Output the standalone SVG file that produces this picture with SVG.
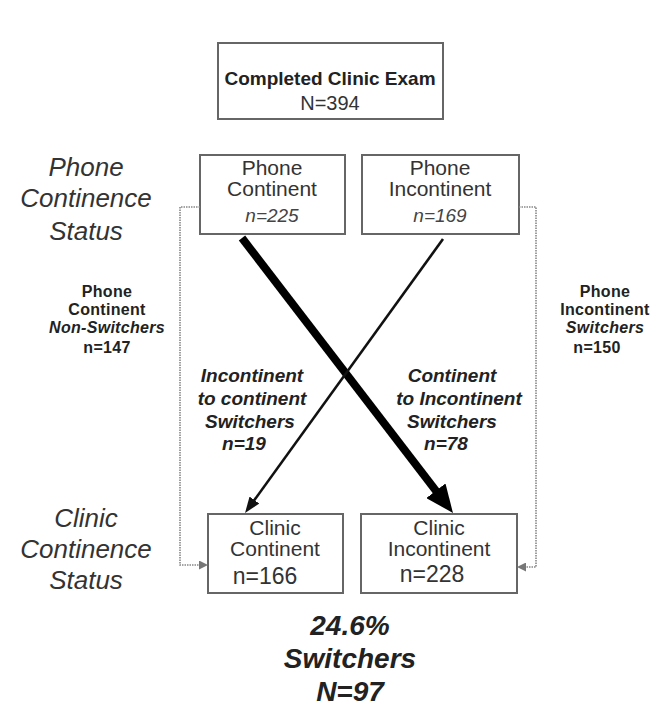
<svg xmlns="http://www.w3.org/2000/svg" width="668" height="708" viewBox="0 0 668 708">
<defs>
<style>
text{font-family:"Liberation Sans",Arial,sans-serif;fill:#222;text-anchor:middle}
.box{fill:#fff;stroke:#666;stroke-width:2}
.side{font-size:26px;font-style:italic;fill:#333}
.sm{font-size:16px;font-weight:bold;letter-spacing:0.3px}
.mid{font-size:19px;font-weight:bold;font-style:italic}
.node{font-size:21px;fill:#333}
.dot{fill:none;stroke:#888;stroke-width:1.6;stroke-dasharray:1.5 1}
</style>
<marker id="ahBig" markerUnits="userSpaceOnUse" markerWidth="28" markerHeight="24" refX="8" refY="12" orient="auto">
<path d="M0,0 L28,12 L0,24 z" fill="#000"/>
</marker>
<marker id="ahThin" markerUnits="userSpaceOnUse" markerWidth="16" markerHeight="12" refX="6" refY="6" orient="auto">
<path d="M0,0 L16,6 L0,12 z" fill="#111"/>
</marker>
<marker id="ahDot" markerUnits="userSpaceOnUse" markerWidth="9" markerHeight="9" refX="1" refY="4.5" orient="auto">
<path d="M0,0 L9,4.5 L0,9 z" fill="#777"/>
</marker>
</defs>

<g id="top">
<rect class="box" x="218" y="43" width="225" height="76"/>
<text x="330" y="85" style="font-size:19px;font-weight:bold">Completed Clinic Exam</text>
<text x="330" y="110" style="font-size:20px;fill:#333">N=394</text>
</g>

<g id="phoneLabel">
<text class="side" x="86" y="176">Phone</text>
<text class="side" x="86" y="207">Continence</text>
<text class="side" x="86" y="240">Status</text>
</g>

<g id="clinicLabel">
<text class="side" x="86" y="527">Clinic</text>
<text class="side" x="86" y="558">Continence</text>
<text class="side" x="86" y="589">Status</text>
</g>

<g id="phoneContinent">
<rect class="box" x="200" y="155" width="145" height="79"/>
<text class="node" x="272" y="175">Phone</text>
<text class="node" x="272" y="196">Continent</text>
<text x="272" y="222" style="font-size:19px;font-style:italic;fill:#444">n=225</text>
</g>

<g id="phoneIncontinent">
<rect class="box" x="362" y="155" width="157" height="79"/>
<text class="node" x="440" y="175">Phone</text>
<text class="node" x="440" y="196">Incontinent</text>
<text x="440" y="222" style="font-size:19px;font-style:italic;fill:#444">n=169</text>
</g>

<g id="clinicContinent">
<rect class="box" x="208" y="514" width="135" height="79"/>
<text class="node" x="275" y="535">Clinic</text>
<text class="node" x="275" y="556">Continent</text>
<text x="265" y="584" style="font-size:23px;fill:#333">n=166</text>
</g>

<g id="clinicIncontinent">
<rect class="box" x="361" y="514" width="156" height="79"/>
<text class="node" x="439" y="535">Clinic</text>
<text class="node" x="439" y="556">Incontinent</text>
<text x="432" y="582" style="font-size:23px;fill:#333">n=228</text>
</g>

<g id="connectors">
<line x1="242" y1="238" x2="440.8" y2="497.1" stroke="#000" stroke-width="8" marker-end="url(#ahBig)"/>
<line x1="443" y1="239" x2="250.9" y2="504.9" stroke="#111" stroke-width="2.6" marker-end="url(#ahThin)"/>
<path class="dot" d="M200,207 H180 V565 H200" marker-end="url(#ahDot)"/>
<path class="dot" d="M519,207 H536 V567 H525" marker-end="url(#ahDot)"/>
</g>

<g id="leftSwitchLabel">
<text class="sm" x="107" y="297">Phone</text>
<text class="sm" x="107" y="315">Continent</text>
<text class="sm" x="107" y="333" style="font-style:italic">Non-Switchers</text>
<text class="sm" x="107" y="353">n=147</text>
</g>

<g id="rightSwitchLabel">
<text class="sm" x="605" y="297">Phone</text>
<text class="sm" x="605" y="315">Incontinent</text>
<text class="sm" x="605" y="333" style="font-style:italic">Switchers</text>
<text class="sm" x="597" y="353">n=150</text>
</g>

<g id="incToCont">
<text class="mid" x="252" y="382">Incontinent</text>
<text class="mid" x="252" y="405">to continent</text>
<text class="mid" x="250" y="428">Switchers</text>
<text class="mid" x="244" y="450">n=19</text>
</g>

<g id="contToInc">
<text class="mid" x="452" y="382">Continent</text>
<text class="mid" x="459" y="405">to Incontinent</text>
<text class="mid" x="452" y="428">Switchers</text>
<text class="mid" x="446" y="450">n=78</text>
</g>

<g id="summary">
<text x="350" y="635" style="font-size:28px;font-weight:bold;font-style:italic">24.6%</text>
<text x="350" y="668" style="font-size:28px;font-weight:bold;font-style:italic">Switchers</text>
<text x="350" y="701" style="font-size:28px;font-weight:bold;font-style:italic">N=97</text>
</g>
</svg>
